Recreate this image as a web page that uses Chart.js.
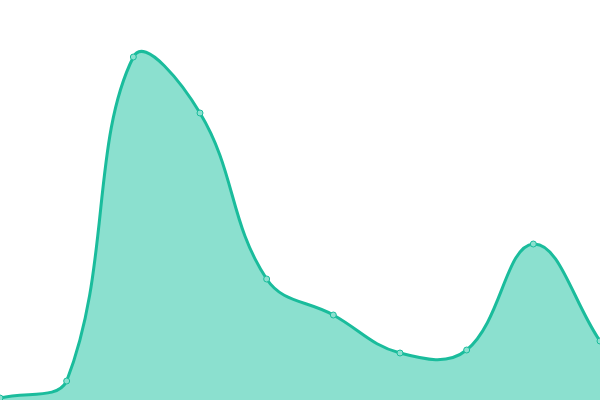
<!DOCTYPE html>
<html>
<head>
<meta charset="utf-8">
<script src="https://cdn.jsdelivr.net/npm/chart.js@4/dist/chart.umd.min.js"></script>
<style>
html,body{margin:0;padding:0;background:#fff;}
#wrap{width:600px;height:400px;}
</style>
</head>
<body>
<div id="wrap"><canvas id="c"></canvas></div>
<script>
const labels = ["1","2","3","4","5","6","7","8","9","10"];
const values = [2, 19, 343, 287, 121, 85, 47, 50, 156, 59];

new Chart(document.getElementById('c'), {
  type: 'line',
  data: {
    labels: labels,
    datasets: [{
      data: values,
      fill: 'origin',
      backgroundColor: '#8be0cf',
      borderColor: '#1abc9c',
      borderWidth: 3,
      tension: 0.4,
      pointRadius: 3,
      pointBorderWidth: 1,
      pointBackgroundColor: '#8be0cf',
      pointBorderColor: '#1abc9c'
    }]
  },
  options: {
    responsive: true,
    maintainAspectRatio: false,
    animation: false,
    layout: { padding: 0, autoPadding: false },
    plugins: { legend: { display: false }, tooltip: { enabled: false } },
    scales: {
      x: { display: false, offset: false },
      y: { display: false, min: 0, max: 400 }
    }
  }
});
</script>
</body>
</html>
